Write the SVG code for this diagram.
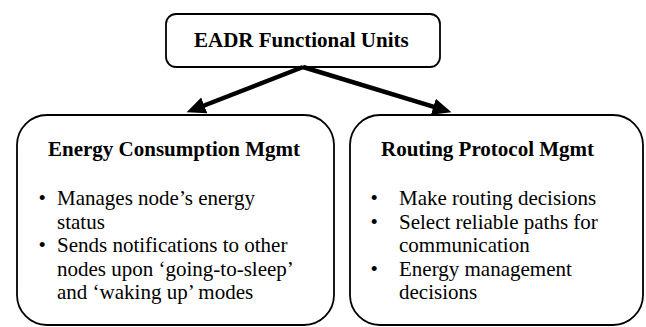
<svg xmlns="http://www.w3.org/2000/svg" width="646" height="327" viewBox="0 0 646 327">
<style>
.box{fill:#fff;stroke:#000;stroke-width:1.8}
.arrow{stroke:#000;stroke-width:4.5;fill:none}
</style>
<defs>
<marker id="ah" markerUnits="userSpaceOnUse" markerWidth="20" markerHeight="20" viewBox="0 -9 19 18" refX="8" refY="0" orient="auto">
<path d="M0,-8 L18,0 L0,8 z" fill="#000"/>
</marker>
</defs>
<rect width="646" height="327" fill="#fff"/>
<g id="top">
<rect class="box" x="166" y="14" width="274" height="53" rx="10"/>
<text font-family="Liberation Serif" font-size="21" font-weight="bold" x="194" y="47">EADR Functional Units</text>
</g>
<g id="energy">
<rect class="box" x="17" y="115" width="317" height="210" rx="30"/>
<text font-family="Liberation Serif" font-size="21" font-weight="bold" x="48" y="156">Energy Consumption Mgmt</text>
<text font-family="Liberation Serif" font-size="21" x="38.5" y="205">•</text>
<text font-family="Liberation Serif" font-size="21" x="57" y="205">Manages node’s energy</text>
<text font-family="Liberation Serif" font-size="21" x="57" y="228.5">status</text>
<text font-family="Liberation Serif" font-size="21" x="38.5" y="252">•</text>
<text font-family="Liberation Serif" font-size="21" x="57" y="252">Sends notifications to other</text>
<text font-family="Liberation Serif" font-size="21" x="57" y="275.5">nodes upon ‘going-to-sleep’</text>
<text font-family="Liberation Serif" font-size="21" x="57" y="299">and ‘waking up’ modes</text>
</g>
<g id="routing">
<rect class="box" x="350" y="115" width="293" height="210" rx="30"/>
<text font-family="Liberation Serif" font-size="21" font-weight="bold" x="381" y="156">Routing Protocol Mgmt</text>
<text font-family="Liberation Serif" font-size="21" x="370.5" y="205">•</text>
<text font-family="Liberation Serif" font-size="21" x="399" y="205">Make routing decisions</text>
<text font-family="Liberation Serif" font-size="21" x="370.5" y="228.5">•</text>
<text font-family="Liberation Serif" font-size="21" x="399" y="228.5">Select reliable paths for</text>
<text font-family="Liberation Serif" font-size="21" x="399" y="252">communication</text>
<text font-family="Liberation Serif" font-size="21" x="370.5" y="275.5">•</text>
<text font-family="Liberation Serif" font-size="21" x="399" y="275.5">Energy management</text>
<text font-family="Liberation Serif" font-size="21" x="399" y="299">decisions</text>
</g>
<g id="connectors">
<line class="arrow" x1="303" y1="67" x2="196.4" y2="108.5" marker-end="url(#ah)"/>
<line class="arrow" x1="303" y1="67" x2="441.4" y2="109.2" marker-end="url(#ah)"/>
</g>
</svg>
